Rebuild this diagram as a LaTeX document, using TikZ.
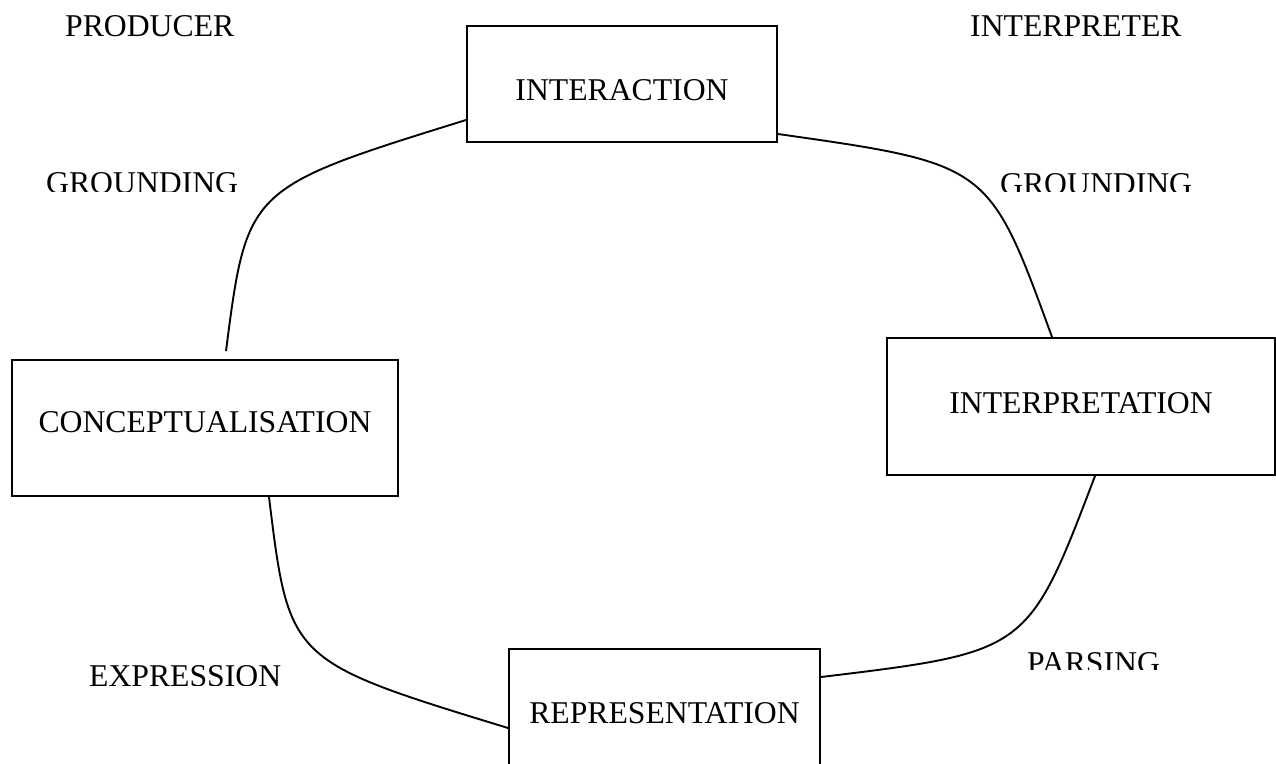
\documentclass[tikz,border=0pt]{standalone}
\usepackage{fontspec}
\setmainfont{Liberation Serif}
\begin{document}
\begin{tikzpicture}[x=1pt,y=-1pt,
  box/.style={draw,line width=1.9pt,inner sep=0pt,align=center,font=\fontsize{31.7}{38}\selectfont},
  lbl/.style={anchor=base west,inner sep=0pt,font=\fontsize{31.7}{38}\selectfont},
  link/.style={line width=1.9pt}]
\useasboundingbox (0,0) rectangle (1276,763);
% boxes
\node[box,minimum width=310pt,minimum height=116pt,text height=33pt,text depth=0pt] (I) at (622,84) {INTERACTION};
\node[box,minimum width=388pt,minimum height=137pt,text height=21pt,text depth=7pt] (P) at (1081,406.5) {INTERPRETATION};
\node[box,minimum width=386pt,minimum height=136pt,text height=21pt,text depth=12pt] (C) at (205,428) {CONCEPTUALISATION};
\node[box,minimum width=311pt,minimum height=128pt,text height=21pt,text depth=0pt] (R) at (664.5,713) {REPRESENTATION};
% labels
\node[lbl] (prod) at (65,36) {PRODUCER};
\node[lbl] (interp) at (970,36) {INTERPRETER};
\begin{scope}
  \clip (0,0) rectangle (400,191);
  \node[lbl] (gl) at (46,193) {GROUNDING};
\end{scope}
\begin{scope}
  \clip (980,0) rectangle (1276,191);
  \node[lbl] (gr) at (1000,194) {GROUNDING};
\end{scope}
\begin{scope}
  \clip (0,600) rectangle (420,685);
  \node[lbl] (expr) at (89,686) {EXPRESSION};
\end{scope}
\begin{scope}
  \clip (1000,600) rectangle (1276,669);
  \node[lbl] (pars) at (1027,673) {PARSING};
\end{scope}
% connectors
\coordinate (c1end) at ([xshift=21pt,yshift=8pt]C.north);
\draw[link] ([yshift=-36pt]I.west) .. controls (247,188) and (247,188) .. (c1end);
\draw[link] ([yshift=-50pt]I.east) .. controls (989,164) and (989,164) .. ([xshift=-29pt]P.north);
\draw[link] ([xshift=14pt]P.south) .. controls (1028,652) and (1028,652) .. ([yshift=36pt]R.east);
\draw[link] ([xshift=64pt]C.south) .. controls (289,661) and (289,661) .. ([yshift=-15pt]R.west);
\end{tikzpicture}
\end{document}
